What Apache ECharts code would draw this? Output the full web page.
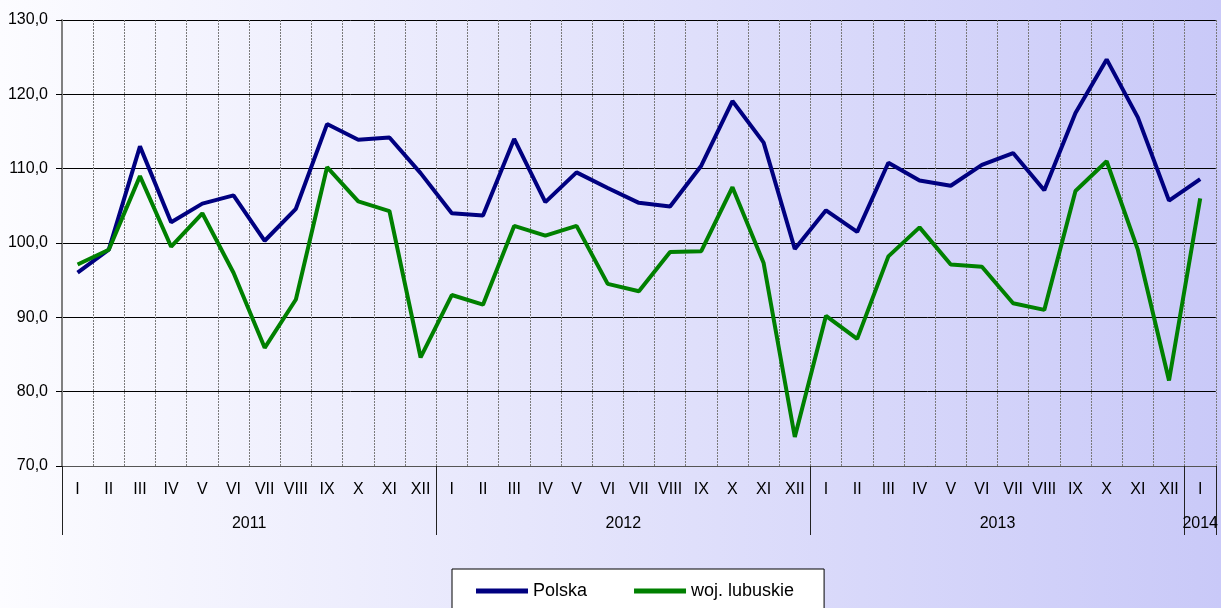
<!DOCTYPE html>
<html>
<head>
<meta charset="utf-8">
<script src="https://cdn.jsdelivr.net/npm/echarts@6/dist/echarts.min.js"></script>
<style>
    html, body { margin: 0; padding: 0; }
    #main { width: 1221px; height: 608px; }
</style>
</head>
<body>
<div id="main"></div>
<script>
// miesiace (kategorie osi X)
const months = [
    'I', 'II', 'III', 'IV', 'V', 'VI', 'VII', 'VIII', 'IX', 'X', 'XI', 'XII',
    'I', 'II', 'III', 'IV', 'V', 'VI', 'VII', 'VIII', 'IX', 'X', 'XI', 'XII',
    'I', 'II', 'III', 'IV', 'V', 'VI', 'VII', 'VIII', 'IX', 'X', 'XI', 'XII',
    'I'
];
// lata - druga linia opisu osi
const years = ['2011', '2012', '2013', '2014'];
const yearStarts = [0, 12, 24, 36, 37];
const yearCenters = [6, 18, 30, 36.5];

const polska = [
    96.0, 99.1, 113.0, 102.8, 105.3, 106.4, 100.3, 104.6, 116.0, 113.9, 114.2, 109.4,
    104.0, 103.7, 114.0, 105.5, 109.5, 107.4, 105.4, 104.9, 110.4, 119.1, 113.5, 99.2,
    104.4, 101.5, 110.8, 108.4, 107.7, 110.5, 112.1, 107.1, 117.5, 124.7, 116.9, 105.7,
    108.6
];
const lubuskie = [
    97.1, 99.1, 109.0, 99.5, 104.0, 96.0, 85.9, 92.4, 110.2, 105.6, 104.3, 84.6,
    93.0, 91.7, 102.3, 101.0, 102.3, 94.5, 93.5, 98.8, 98.9, 107.5, 97.3, 73.9,
    90.2, 87.1, 98.2, 102.1, 97.1, 96.8, 91.9, 91.0, 107.0, 111.0, 99.1, 81.5,
    106.0
];

const font = 'Liberation Sans, Arial, sans-serif';

const chart = echarts.init(document.getElementById('main'));
const option = {
    backgroundColor: new echarts.graphic.LinearGradient(0, 0, 1, 0, [
        { offset: 0, color: '#fcfcff' },
        { offset: 1, color: '#c9c9f8' }
    ]),
    animation: false,
    grid: { left: 62, right: 2, top: 20, bottom: 142, containLabel: false },
    legend: {
        left: 452,
        top: 569,
        padding: [13, 30, 14, 24],
        itemGap: 47,
        itemWidth: 52,
        itemHeight: 5,
        icon: 'rect',
        backgroundColor: '#ffffff',
        borderColor: '#000000',
        borderWidth: 1,
        textStyle: { fontFamily: font, fontSize: 18, color: '#000' },
        data: ['Polska', 'woj. lubuskie']
    },
    xAxis: [
        {
            type: 'category',
            data: months,
            boundaryGap: true,
            axisLine: { lineStyle: { color: '#555', width: 1 } },
            axisTick: { interval: 0, length: 35, lineStyle: { color: '#222' } },
            axisLabel: { interval: 0, margin: 16, fontFamily: font, fontSize: 16, color: '#000' },
            splitLine: { show: true, interval: 0, lineStyle: { color: '#7a7a7a', type: [2, 1], width: 1 } }
        },
        {
            type: 'value',
            min: 0,
            max: 37,
            position: 'bottom',
            axisLine: { show: false },
            splitLine: { show: false },
            axisTick: { show: true, customValues: yearStarts, length: 69, lineStyle: { color: '#222' } },
            axisLabel: {
                customValues: yearCenters,
                margin: 50,
                fontFamily: font,
                fontSize: 16,
                color: '#000',
                formatter: (v) => years[yearCenters.indexOf(v)]
            }
        }
    ],
    yAxis: {
        type: 'value',
        min: 70,
        max: 130,
        interval: 10,
        axisLine: { show: true, lineStyle: { color: '#808080', width: 2 } },
        axisTick: { show: true, length: 6, lineStyle: { color: '#000' } },
        axisLabel: {
            margin: 14,
            fontFamily: font,
            fontSize: 16,
            color: '#000',
            formatter: (v) => v.toFixed(1).replace('.', ',')
        },
        splitLine: { show: true, lineStyle: { color: '#000', width: 1 } }
    },
    series: [
        {
            name: 'Polska',
            type: 'line',
            data: polska,
            symbol: 'none',
            color: '#000080',
            lineStyle: { width: 4, color: '#000080' }
        },
        {
            name: 'woj. lubuskie',
            type: 'line',
            data: lubuskie,
            symbol: 'none',
            color: '#008000',
            lineStyle: { width: 4, color: '#008000' }
        }
    ]
};
chart.setOption(option);
</script>
</body>
</html>
